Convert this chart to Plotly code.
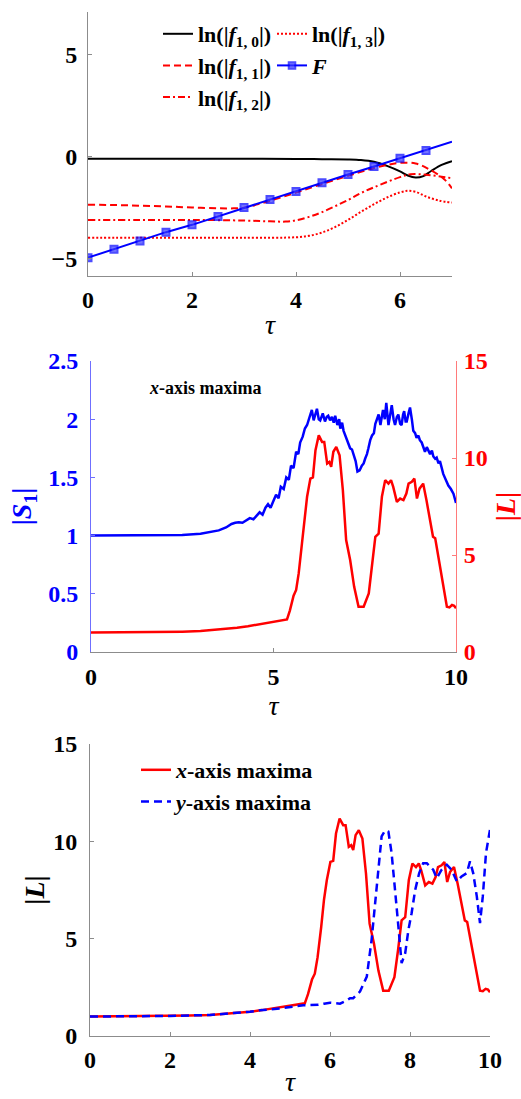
import plotly.graph_objects as go

# ---------------- data ----------------
# top panel: logarithms of |f_{1,n}| and the linear ramp F versus tau
tau_f10 = [0, 1, 2, 3, 4, 4.5, 5, 5.25, 5.5, 5.75, 6, 6.15, 6.3, 6.45, 6.6, 6.8, 7]
ln_f10 = [-0.1, -0.1, -0.1, -0.1, -0.11, -0.12, -0.13, -0.16, -0.25, -0.45, -0.72,
          -0.92, -1.02, -0.95, -0.7, -0.4, -0.22]

tau_f11 = [0, 0.5, 1, 1.5, 2, 2.5, 2.8, 3, 3.5, 4, 4.5, 5, 5.5, 5.75, 6.0, 6.3, 6.55, 6.85, 7.0]
ln_f11 = [-2.35, -2.37, -2.4, -2.44, -2.49, -2.53, -2.53, -2.5, -2.16, -1.76, -1.34,
          -0.93, -0.55, -0.4, -0.3, -0.33, -0.6, -1.1, -1.55]

tau_f12 = [0, 1, 2, 3, 3.5, 3.8, 4.0, 4.25, 4.5, 5, 5.25, 5.5, 6.0, 6.2, 6.5, 6.8, 7]
ln_f12 = [-3.1, -3.1, -3.1, -3.13, -3.17, -3.18, -3.12, -2.95, -2.72, -2.12, -1.78,
          -1.5, -1.0, -0.86, -0.88, -0.98, -1.05]

tau_f13 = [0, 1, 2, 3, 4, 4.25, 4.5, 4.75, 5, 5.25, 5.5, 5.75, 6, 6.15, 6.3, 6.5, 6.75, 7]
ln_f13 = [-3.97, -3.97, -3.97, -3.97, -3.95, -3.88, -3.72, -3.45, -3.1, -2.7, -2.33,
          -2.0, -1.75, -1.67, -1.72, -1.95, -2.15, -2.25]

tau_F = [0, 0.5, 1, 1.5, 2, 2.5, 3, 3.5, 4, 4.5, 5, 5.5, 6, 6.5, 7]
F_vals = [-4.95, -4.54, -4.13, -3.70, -3.34, -2.93, -2.49, -2.10, -1.70, -1.28,
          -0.87, -0.48, -0.07, 0.31, 0.74]

# middle panel: |S1| (left axis)
S1_points = [
    (0, 1.0), (0.5, 1.0), (1, 1.0), (1.5, 1.0), (2, 1.0), (2.5, 1.005), (3.0, 1.015),
    (3.3, 1.03), (3.5, 1.045), (3.7, 1.07), (3.85, 1.10), (3.95, 1.11), (4.05, 1.115),
    (4.15, 1.11), (4.25, 1.13), (4.35, 1.15), (4.45, 1.14), (4.55, 1.18), (4.62, 1.2),
    (4.7, 1.18), (4.78, 1.24), (4.85, 1.27), (4.92, 1.24), (5.0, 1.3), (5.07, 1.35),
    (5.14, 1.32), (5.2, 1.42), (5.28, 1.4), (5.35, 1.5), (5.42, 1.48), (5.48, 1.6),
    (5.55, 1.58), (5.62, 1.72), (5.68, 1.7), (5.73, 1.8), (5.8, 1.85), (5.86, 1.92),
    (5.92, 1.95), (5.97, 2.0), (6.02, 2.04), (6.05, 2.08), (6.1, 1.99), (6.15, 2.06),
    (6.19, 2.09), (6.24, 2.0), (6.28, 1.99), (6.35, 2.05), (6.41, 1.98), (6.46, 2.02),
    (6.5, 2.03), (6.55, 1.99), (6.6, 2.02), (6.65, 1.97), (6.69, 2.03), (6.75, 1.95),
    (6.8, 2.0), (6.83, 1.92), (6.88, 1.97), (6.92, 1.9), (6.97, 1.86), (7.01, 1.83),
    (7.06, 1.78), (7.1, 1.75), (7.15, 1.74), (7.2, 1.69), (7.25, 1.64), (7.3, 1.55),
    (7.36, 1.56), (7.42, 1.6), (7.47, 1.62), (7.51, 1.66), (7.56, 1.7), (7.6, 1.75),
    (7.65, 1.82), (7.7, 1.86), (7.75, 1.88), (7.79, 1.96), (7.84, 2.0), (7.88, 2.04),
    (7.93, 1.95), (7.97, 2.03), (8.0, 2.08), (8.05, 2.0), (8.09, 2.14), (8.15, 1.95),
    (8.2, 2.06), (8.24, 2.12), (8.29, 2.0), (8.33, 1.95), (8.38, 2.02), (8.42, 2.04),
    (8.47, 1.96), (8.51, 1.95), (8.55, 2.04), (8.58, 2.07), (8.62, 1.98), (8.65, 1.98),
    (8.7, 2.05), (8.74, 2.1), (8.79, 2.0), (8.83, 1.9), (8.88, 1.88), (8.92, 1.84),
    (8.97, 1.86), (9.01, 1.82), (9.06, 1.8), (9.1, 1.77), (9.15, 1.72), (9.2, 1.76),
    (9.25, 1.72), (9.29, 1.7), (9.34, 1.73), (9.38, 1.68), (9.43, 1.66), (9.47, 1.67),
    (9.52, 1.62), (9.56, 1.64), (9.61, 1.58), (9.65, 1.53), (9.72, 1.48), (9.79, 1.43),
    (9.86, 1.40), (9.93, 1.36), (10.0, 1.28),
]

# |L| along the x-axis maxima (middle right axis and bottom panel)
Lx_points = [
    (0, 1.0), (1, 1.01), (2, 1.03), (2.5, 1.05), (3, 1.08), (3.5, 1.15), (4, 1.25),
    (4.3, 1.33), (4.64, 1.45), (5.0, 1.55), (5.2, 1.62), (5.37, 1.68), (5.45, 2.15),
    (5.55, 2.9), (5.62, 3.2), (5.69, 4.05), (5.78, 5.6), (5.85, 7.0), (5.92, 8.0),
    (6.01, 8.94), (6.08, 9.0), (6.15, 10.4), (6.24, 11.17), (6.33, 10.83), (6.39, 10.83),
    (6.47, 9.72), (6.53, 9.8), (6.58, 9.55), (6.64, 10.32), (6.72, 10.57), (6.81, 10.14),
    (6.9, 8.34), (6.99, 5.77), (7.1, 4.74), (7.21, 3.36), (7.33, 2.33), (7.47, 2.33),
    (7.61, 3.02), (7.7, 4.39), (7.79, 5.94), (7.88, 6.1), (7.97, 8.0), (8.06, 8.86),
    (8.15, 8.68), (8.22, 8.86), (8.28, 8.51), (8.38, 7.74), (8.47, 7.91), (8.56, 7.83),
    (8.64, 8.17), (8.7, 8.68), (8.79, 8.77), (8.86, 8.94), (8.93, 7.91), (9.0, 8.42),
    (9.1, 8.68), (9.19, 7.83), (9.3, 6.63), (9.37, 5.94), (9.43, 5.86), (9.55, 4.57),
    (9.66, 3.36), (9.75, 2.33), (9.82, 2.3), (9.89, 2.42), (9.95, 2.38), (10.0, 2.25),
]

# |L| along the y-axis maxima (bottom panel)
Ly_points = [
    (0, 1.0), (1, 1.01), (2, 1.03), (3, 1.08), (3.5, 1.15), (4, 1.25), (4.25, 1.32),
    (4.75, 1.42), (5.33, 1.58), (5.5, 1.6), (5.71, 1.6), (5.85, 1.66), (6.0, 1.71),
    (6.25, 1.66), (6.4, 1.8), (6.5, 1.94), (6.58, 1.94), (6.75, 2.28), (6.92, 3.05),
    (7.04, 4.94), (7.13, 6.83), (7.21, 8.88), (7.29, 10.25), (7.38, 10.56), (7.46, 10.5),
    (7.54, 9.4), (7.63, 7.52), (7.71, 5.62), (7.79, 3.74), (7.88, 4.25), (7.96, 5.45),
    (8.04, 6.31), (8.13, 7.51), (8.23, 8.37), (8.33, 8.88), (8.42, 8.88), (8.5, 8.71),
    (8.58, 8.54), (8.67, 8.11), (8.79, 8.54), (8.92, 8.8), (9.04, 8.54), (9.17, 7.94),
    (9.29, 8.2), (9.42, 8.37), (9.5, 8.97), (9.58, 8.37), (9.67, 7.17), (9.75, 5.8),
    (9.82, 7.17), (9.9, 9.4), (10.0, 10.6),
]

tau_S1, S1_vals = zip(*S1_points)
tau_Lx, Lx_vals = zip(*Lx_points)
tau_Ly, Ly_vals = zip(*Ly_points)

# ---------------- styling ----------------
W, H = 521, 1099
SERIF = "Liberation Serif"
RED, BLUE, BLACK = "#ff0000", "#0000ff", "#000000"
AXIS_GRAY = "#8c8c8c"


def px_x(p):
    return p / W


def px_y(p):
    return 1 - p / H


def tick_font(color=BLACK):
    return dict(family=SERIF, size=24, color=color, weight="bold")


def title_font(color=BLACK, size=26):
    return dict(family=SERIF, size=size, color=color, weight="bold")


def base_axis(**kw):
    d = dict(showgrid=False, zeroline=False, showline=True, linewidth=1,
             linecolor=AXIS_GRAY, ticks="inside", ticklen=4, tickwidth=1,
             tickcolor=AXIS_GRAY, mirror=False, tickfont=tick_font(),
             automargin=False)
    d.update(kw)
    return d


fig = go.Figure()

# ----- top panel -----
fig.add_trace(go.Scatter(x=tau_f10, y=ln_f10, mode="lines", line=dict(color=BLACK, width=2, shape="spline"),
                         name="ln(|<i>f</i><sub>1, 0</sub>|)", xaxis="x", yaxis="y", legend="legend"))
fig.add_trace(go.Scatter(x=tau_f11, y=ln_f11, mode="lines",
                         line=dict(color=RED, width=2, dash="7px,4px", shape="spline"),
                         name="ln(|<i>f</i><sub>1, 1</sub>|)", xaxis="x", yaxis="y", legend="legend"))
fig.add_trace(go.Scatter(x=tau_f12, y=ln_f12, mode="lines",
                         line=dict(color=RED, width=2, dash="7px,3px,2px,3px", shape="spline"),
                         name="ln(|<i>f</i><sub>1, 2</sub>|)", xaxis="x", yaxis="y", legend="legend"))
fig.add_trace(go.Scatter(x=tau_f13, y=ln_f13, mode="lines",
                         line=dict(color=RED, width=2, dash="2px,2px", shape="spline"),
                         name="ln(|<i>f</i><sub>1, 3</sub>|)", xaxis="x", yaxis="y", legend="legend2"))
fig.add_trace(go.Scatter(x=tau_F, y=F_vals, mode="lines+markers",
                         line=dict(color=BLUE, width=2),
                         marker=dict(symbol="square", size=[7] * (len(tau_F) - 1) + [0],
                                     color="#3a3aff", line=dict(color=BLUE, width=2)),
                         name="<i>F</i>", xaxis="x", yaxis="y", legend="legend2"))

# ----- middle panel -----
fig.add_trace(go.Scatter(x=tau_S1, y=S1_vals, mode="lines", line=dict(color=BLUE, width=2.5),
                         showlegend=False, xaxis="x2", yaxis="y2"))
fig.add_trace(go.Scatter(x=tau_Lx, y=Lx_vals, mode="lines", line=dict(color=RED, width=2.5),
                         showlegend=False, xaxis="x2", yaxis="y3"))

# ----- bottom panel -----
fig.add_trace(go.Scatter(x=tau_Lx, y=Lx_vals, mode="lines", line=dict(color=RED, width=2.5),
                         name="<i>x</i>-axis maxima", xaxis="x3", yaxis="y4", legend="legend3"))
fig.add_trace(go.Scatter(x=tau_Ly, y=Ly_vals, mode="lines",
                         line=dict(color=BLUE, width=2.5, dash="8px,5px"),
                         name="<i>y</i>-axis maxima", xaxis="x3", yaxis="y4", legend="legend3"))

tau_font = dict(family=SERIF, size=28, color=BLACK)
tau_title = dict(text="<i>τ</i>", font=tau_font)

legend_common = dict(bgcolor="rgba(0,0,0,0)", borderwidth=0, tracegroupgap=0,
                     font=dict(family=SERIF, size=22, color=BLACK, weight="bold"),
                     xanchor="left", yanchor="top", itemwidth=30)

fig.update_layout(
    width=W, height=H, margin=dict(l=0, r=0, t=0, b=0, autoexpand=False),
    paper_bgcolor="white", plot_bgcolor="white",
    font=dict(family=SERIF, color=BLACK),
    # top
    xaxis=base_axis(domain=[px_x(88), px_x(452)], anchor="y", range=[0, 7],
                    tickvals=[0, 2, 4, 6], ticklabelstandoff=2,
                    title=dict(tau_title, standoff=2)),
    yaxis=base_axis(domain=[px_y(276), px_y(12)], anchor="x", range=[-5.85, 7.1],
                    tickvals=[-5, 0, 5], ticklabelstandoff=5),
    # middle
    xaxis2=base_axis(domain=[px_x(91), px_x(456)], anchor="y2", range=[0, 10],
                     tickvals=[0, 5, 10], ticklabelstandoff=3,
                     title=dict(tau_title, standoff=6)),
    yaxis2=base_axis(domain=[px_y(652), px_y(361)], anchor="x2", range=[0, 2.5],
                     tickvals=[0, 0.5, 1, 1.5, 2, 2.5], tickformat="~g",
                     linecolor="#6f6fff", tickcolor="#6f6fff",
                     tickfont=tick_font(BLUE), ticklabelstandoff=7,
                     title=dict(text="|<i>S</i><sub>1</sub>|", standoff=8,
                                font=title_font(BLUE, 28))),
    yaxis3=base_axis(domain=[px_y(652), px_y(361)], anchor="x2", overlaying="y2",
                     side="right", range=[0, 15], tickvals=[0, 5, 10, 15],
                     linecolor="#ff7a7a", tickcolor="#ff7a7a",
                     tickfont=tick_font(RED), ticklabelstandoff=2,
                     title=dict(text="|<i>L</i>|", standoff=22, font=title_font(RED, 28))),
    # bottom (its tau label sits near the page edge, placed as an annotation below)
    xaxis3=base_axis(domain=[px_x(90), px_x(490)], anchor="y4", range=[0, 10],
                     tickvals=[0, 2, 4, 6, 8, 10], ticklabelstandoff=2),
    yaxis4=base_axis(domain=[px_y(1036), px_y(744)], anchor="x3", range=[0, 15],
                     tickvals=[0, 5, 10, 15], ticklabelstandoff=7,
                     title=dict(text="|<i>L</i>|", standoff=0, font=title_font(BLACK, 28))),
    legend=dict(legend_common, x=px_x(158), y=px_y(13)),
    legend2=dict(legend_common, x=px_x(272), y=px_y(13)),
    legend3=dict(legend_common, x=px_x(136), y=px_y(749)),
    annotations=[
        dict(text="<i>x</i>-axis maxima", x=px_x(205), y=px_y(388), xref="paper", yref="paper",
             showarrow=False, xanchor="center", yanchor="middle",
             font=dict(family=SERIF, size=18, color=BLACK, weight="bold")),
        dict(text="<i>τ</i>", x=px_x(290), y=px_y(1081), xref="paper", yref="paper",
             showarrow=False, xanchor="center", yanchor="middle", font=tau_font),
    ],
)

fig.write_html("out.html")
